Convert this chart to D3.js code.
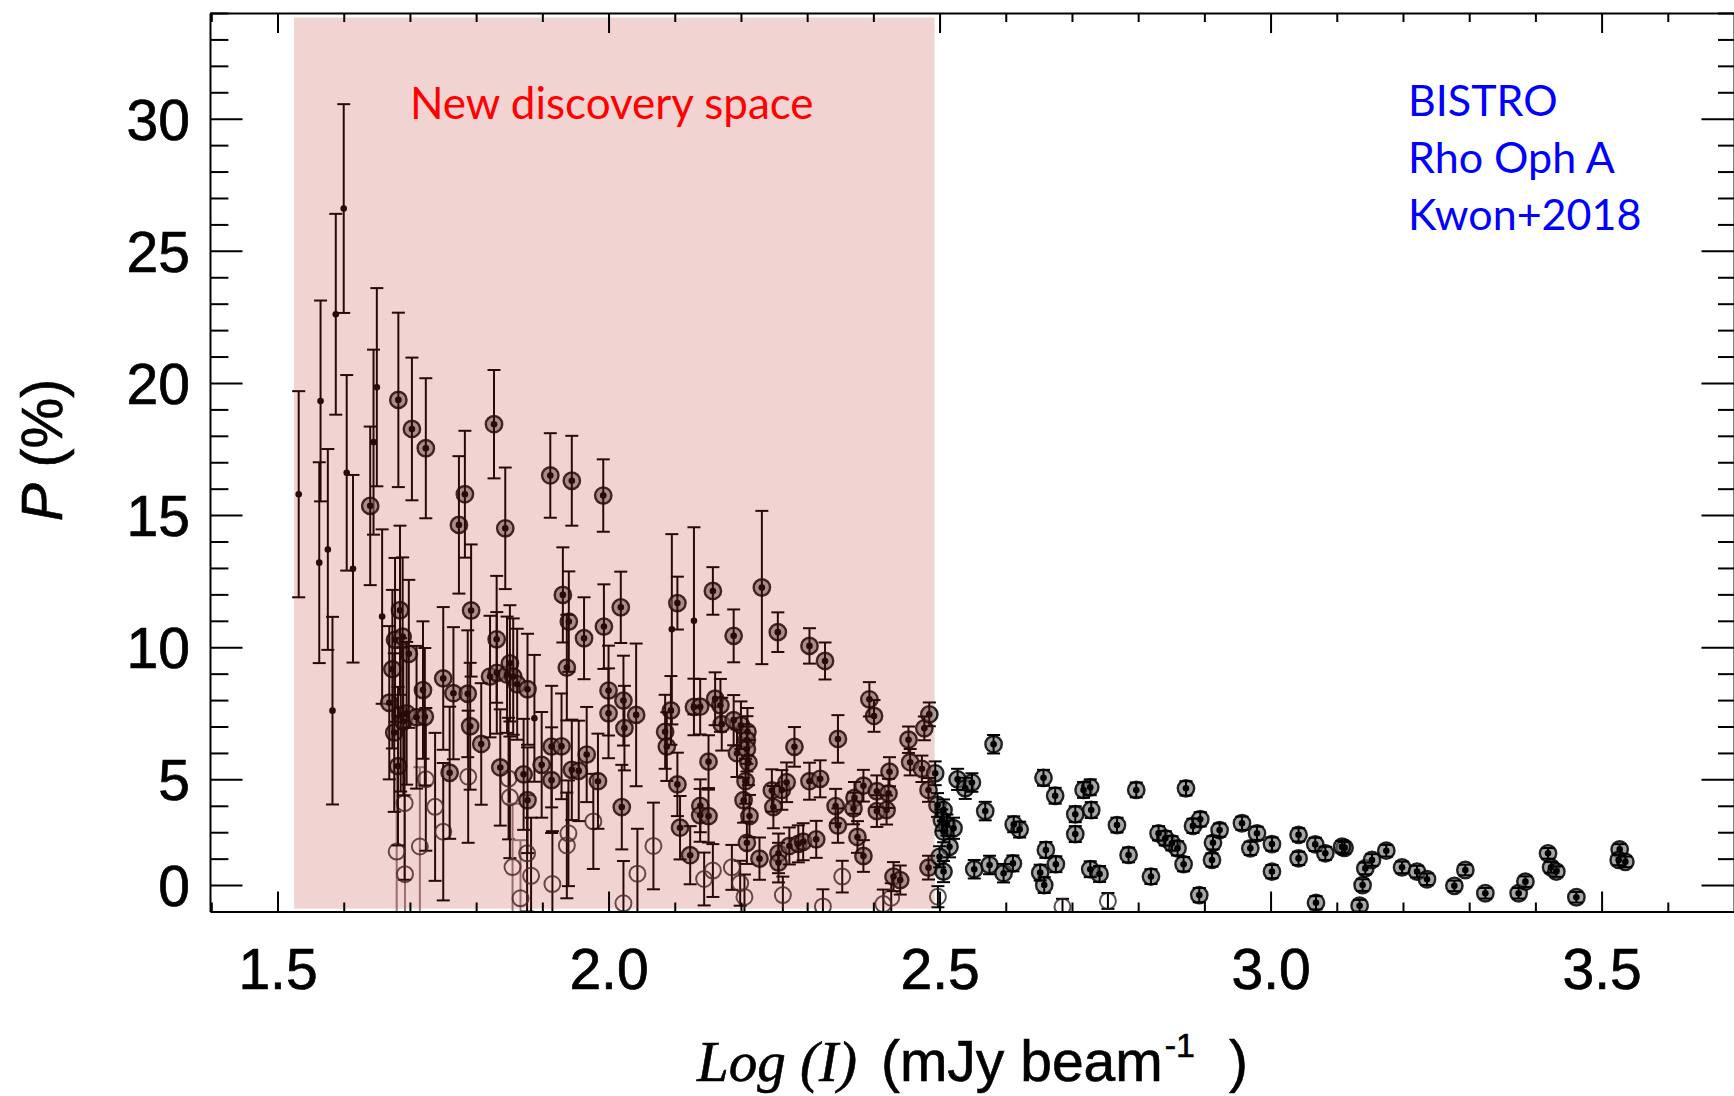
<!DOCTYPE html>
<html>
<head>
<meta charset="utf-8">
<script src="https://cdn.jsdelivr.net/npm/d3@7"></script>
<style>
  body { margin: 0; background: #fff; }
  svg { display: block; }
  .axis text { font-family: "Liberation Sans", Arial, sans-serif; font-size: 57px; fill: #000; stroke: #000; stroke-width: 0.7; }
  .axis path, .axis line { stroke: #000; stroke-width: 2; }
</style>
</head>
<body>
<div id="chart"></div>
<script>
// [log I, P, error]
const smallDots = [
  [1.532, 15.79, 3.9], [1.565, 19.32, 3.8], [1.563, 13.2, 3.8], [1.576, 13.7, 3.8],
  [1.583, 7.6, 3.55], [1.588, 22.6, 3.8], [1.600, 26.6, 3.95], [1.6045, 16.6, 3.7],
  [1.614, 12.97, 3.55], [1.645, 17.76, 3.5], [1.650, 19.84, 3.75], [1.658, 11.16, 3.3],
  [2.0956, 10.68, 3.6], [2.129, 11.0, 3.54], [1.888, 7.31, 2.4]
];

const ringPts = [
  [1.640, 15.35, 3.0], [1.6825, 19.36, 3.3], [1.703, 18.26, 2.7], [1.724, 17.53, 2.65],
  [1.774, 14.63, 2.6], [1.783, 15.79, 2.4], [1.827, 18.44, 2.05], [1.844, 14.5, 2.3],
  [1.912, 16.5, 1.6], [1.9445, 16.3, 1.7], [1.992, 15.74, 1.37], [1.7924, 11.39, 2.5],
  [1.931, 11.98, 1.8], [1.940, 10.97, 1.9], [1.937, 9.23, 2.0], [1.963, 10.34, 1.55],
  [1.993, 10.78, 1.6], [2.0185, 11.51, 1.35], [1.831, 10.3, 2.4], [2.104, 11.67, 1.0],
  [2.1576, 12.13, 0.9], [2.189, 10.43, 1.0], [2.2316, 12.26, 2.9], [2.2557, 10.57, 0.75],
  [2.3035, 10.05, 0.67], [2.327, 9.48, 0.7], [2.394, 8.03, 0.65], [2.401, 7.4, 0.6],
  [1.6688, 7.9, 2.9], [1.6735, 9.17, 3.0], [1.6763, 6.77, 3.0], [1.682, 5.5, 3.0],
  [1.6775, 10.28, 3.1], [1.685, 11.4, 3.2], [1.689, 10.4, 3.0], [1.686, 7.44, 2.9],
  [1.690, 7.19, 2.8], [1.6983, 9.75, 2.8], [1.695, 7.5, 2.7], [1.710, 7.35, 2.7],
  [1.7225, 7.37, 2.6], [1.7197, 8.38, 2.6], [1.7503, 8.82, 2.7], [1.760, 5.25, 2.5],
  [1.7657, 8.26, 2.5], [1.7873, 8.24, 2.4], [1.791, 7.01, 2.4], [1.8077, 6.34, 2.3],
  [1.821, 8.89, 2.3], [1.8312, 9.03, 2.3], [1.8365, 5.45, 2.2], [1.8467, 8.96, 2.2],
  [1.851, 9.39, 2.2], [1.856, 8.89, 2.2], [1.862, 8.6, 2.1], [1.8776, 8.41, 2.1],
  [1.8717, 5.19, 2.1], [1.8776, 4.21, 2.0], [1.899, 5.55, 2.0], [1.914, 6.24, 2.3],
  [1.929, 6.25, 2.0], [1.914, 4.97, 2.0], [1.9445, 5.36, 1.9], [1.955, 5.32, 1.9],
  [1.967, 5.94, 1.8], [1.984, 4.93, 1.8], [2.000, 7.5, 1.7], [2.000, 8.36, 1.7],
  [2.0225, 7.98, 1.7], [2.024, 6.94, 1.6], [2.020, 3.95, 1.6], [2.0417, 7.44, 2.7],
  [2.0855, 6.8, 1.4], [2.088, 6.24, 1.3], [2.0942, 7.61, 1.3], [2.104, 4.81, 1.2],
  [2.108, 3.17, 1.2], [2.1233, 2.13, 1.1], [2.129, 7.74, 1.07], [2.1384, 7.75, 1.05],
  [2.1386, 4.0, 1.0], [2.1384, 3.64, 1.0], [2.151, 3.61, 1.0], [2.151, 5.67, 1.0],
  [2.161, 8.05, 1.0], [2.169, 7.8, 1.0], [2.171, 7.09, 1.0], [2.189, 7.24, 0.95],
  [2.194, 5.99, 0.9], [2.200, 7.05, 0.9], [2.2098, 6.8, 0.9], [2.209, 6.49, 0.9],
  [2.209, 6.15, 0.85], [2.2114, 5.63, 0.85], [2.207, 4.93, 0.85], [2.204, 4.21, 0.85],
  [2.2129, 3.61, 0.8], [2.209, 2.6, 0.8], [2.228, 2.0, 0.8], [2.2467, 4.58, 0.8],
  [2.249, 3.95, 0.8], [2.2567, 2.2, 0.75], [2.2567, 1.85, 0.75], [2.2618, 4.6, 0.75],
  [2.269, 4.89, 0.75], [2.2808, 6.23, 0.75], [2.2731, 2.48, 0.7], [2.2867, 2.56, 0.7],
  [2.294, 2.64, 0.7], [2.3035, 4.93, 0.7], [2.3137, 2.73, 0.7], [2.3197, 5.02, 0.7],
  [2.343, 3.99, 0.65], [2.3465, 6.53, 0.9], [2.3465, 3.25, 0.65], [2.3715, 4.3, 0.6],
  [2.370, 3.9, 0.6], [2.376, 2.82, 0.6], [2.385, 2.1, 0.6], [2.385, 4.76, 0.6],
  [2.4053, 4.55, 0.6], [2.4053, 3.8, 0.6], [2.420, 3.84, 0.55], [2.4244, 5.29, 0.55],
  [2.4229, 4.47, 0.55], [2.4304, 1.32, 0.55], [2.4406, 1.19, 0.55], [2.4531, 6.5, 0.5],
  [2.4556, 5.65, 0.5], [2.4733, 5.4, 0.5], [2.477, 6.93, 0.45], [2.4845, 7.46, 0.45],
  [2.4934, 5.23, 0.45], [2.4833, 4.6, 0.45], [2.4833, 1.66, 0.45], [2.4969, 4.03, 0.45],
  [2.506, 3.84, 0.4], [2.5035, 3.46, 0.4], [2.5111, 3.27, 0.4], [2.5211, 3.15, 0.4],
  [2.506, 3.02, 0.4], [2.515, 2.45, 0.4], [2.500, 2.07, 0.4], [2.506, 1.51, 0.4],
  [2.5272, 5.0, 0.4], [2.5388, 4.66, 0.4], [2.5489, 4.88, 0.35], [2.5816, 6.33, 0.35],
  [2.569, 3.8, 0.35], [2.612, 3.3, 0.3], [2.621, 3.1, 0.3], [2.5524, 1.6, 0.35],
  [2.5755, 1.76, 0.35], [2.5967, 1.45, 0.35], [2.6108, 1.82, 0.3], [2.657, 5.06, 0.3],
  [2.6746, 4.38, 0.3], [2.705, 3.68, 0.3], [2.705, 2.93, 0.3], [2.7175, 4.6, 0.3],
  [2.7276, 4.7, 0.3], [2.7291, 3.84, 0.3], [2.6606, 2.33, 0.3], [2.6757, 1.79, 0.3],
  [2.652, 1.47, 0.3], [2.6581, 1.0, 0.3], [2.7276, 1.6, 0.3], [2.7417, 1.42, 0.3],
  [2.768, 3.27, 0.28], [2.7971, 4.6, 0.28], [2.7855, 2.14, 0.28], [2.8193, 1.32, 0.28],
  [2.8308, 2.96, 0.27], [2.841, 2.77, 0.27], [2.851, 2.58, 0.27], [2.8595, 2.39, 0.27],
  [2.8686, 1.79, 0.27], [2.8722, 4.66, 0.27], [2.8828, 3.24, 0.27], [2.8938, 3.49, 0.27],
  [2.8923, 0.62, 0.27], [2.913, 2.6, 0.25], [2.9115, 1.95, 0.25], [2.923, 3.08, 0.25],
  [2.9568, 3.34, 0.25], [2.9795, 2.96, 0.25], [2.9694, 2.39, 0.25], [3.0021, 2.55, 0.25],
  [3.0021, 1.51, 0.25], [3.0423, 2.9, 0.25], [3.0423, 2.01, 0.25], [3.0675, 2.54, 0.25],
  [3.0827, 2.2, 0.25], [3.1118, 2.41, 0.22], [3.108, 2.45, 0.22], [3.0686, 0.33, 0.25],
  [3.1345, 0.22, 0.22], [3.139, 1.0, 0.22], [3.1431, 1.63, 0.22], [3.1532, 1.95, 0.22],
  [3.1748, 2.3, 0.22], [3.1986, 1.67, 0.22], [3.2212, 1.51, 0.22], [3.2363, 1.22, 0.22],
  [3.2776, 0.97, 0.2], [3.2942, 1.57, 0.2], [3.3244, 0.69, 0.2], [3.3747, 0.69, 0.2],
  [3.3849, 1.13, 0.2], [3.4191, 2.2, 0.2], [3.4237, 1.67, 0.2], [3.4317, 1.51, 0.2],
  [3.4619, 0.54, 0.2], [3.5273, 2.35, 0.2], [3.5258, 1.95, 0.2], [3.5359, 1.88, 0.2]
];

// [log I, P, error, grey bar]
const openPts = [
  [1.680, 2.27, 3.0, 1], [1.6925, 1.41, 3.0, 1], [1.6919, 4.1, 2.9, 0], [1.715, 2.46, 3.0, 1],
  [1.724, 5.0, 2.7, 0], [1.738, 3.96, 2.8, 0], [1.7503, 3.02, 2.6, 0], [1.788, 5.1, 2.5, 0],
  [1.849, 5.03, 2.3, 0], [1.851, 4.32, 2.3, 0], [1.855, 1.68, 2.4, 1], [1.867, 0.5, 2.2, 1],
  [1.877, 2.2, 2.2, 0], [1.883, 1.35, 2.2, 0], [1.9152, 1.04, 2.0, 0], [1.9394, 2.96, 2.0, 0],
  [1.937, 2.5, 2.0, 0], [1.977, 3.41, 1.8, 0], [2.0225, 0.31, 1.6, 0], [2.0436, 1.43, 1.7, 0],
  [2.0678, 2.48, 1.64, 0], [2.1444, 1.23, 1.0, 0], [2.1576, 1.55, 1.0, 0], [2.1863, 1.67, 0.85, 0],
  [2.1988, 1.07, 0.85, 0], [2.2053, 0.55, 0.85, 0], [2.2633, 0.62, 0.7, 0], [2.3238, 0.19, 0.65, 0],
  [2.353, 1.32, 0.6, 0], [2.415, 0.28, 0.55, 0], [2.427, 0.52, 0.55, 0], [2.4975, 0.56, 0.4, 0],
  [2.6857, 0.18, 0.3, 0], [2.7543, 0.4, 0.3, 0]
];

const yTickVals = [1, 5, 10, 15, 20, 25, 30];
const yTickLabels = ['0', '5', '10', '15', '20', '25', '30'];
const xTickVals = [1.5, 2.0, 2.5, 3.0, 3.5];
const xTickLabels = ['1.5', '2.0', '2.5', '3.0', '3.5'];
const bandX = [1.525, 2.4925];
const bandP = [0.11, 33.83];
const notes = ['BISTRO', 'Rho Oph A', 'Kwon+2018'];

const W = 1734, H = 1096;
const padL = 210, padR = 1734, padT = 13, padB = 911.5;

const x = d3.scaleLinear().domain([1.398, 3.7]).range([padL, padR]);
const y = d3.scaleLinear().domain([0, 34]).range([padB, padT]);

const yMinor = d3.range(2, 35).filter(v => !yTickVals.includes(v));
const xMinor = d3.range(14, 37).map(v => v / 10).filter(v => !xTickVals.includes(v));

const svg = d3.select('#chart').append('svg')
    .attr('width', W)
    .attr('height', H);

const defs = svg.append('defs');
defs.append('clipPath').attr('id', 'clip')
  .append('rect')
    .attr('x', padL).attr('y', padT)
    .attr('width', padR - padL).attr('height', padB - padT);
defs.append('filter').attr('id', 'soft')
  .append('feGaussianBlur').attr('stdDeviation', 0.6);

// points
const data = svg.append('g')
    .attr('clip-path', 'url(#clip)')
  .append('g')
    .attr('filter', 'url(#soft)');

const bar = (g, pts, colour) => {
  const e = g.append('g').selectAll('g').data(pts).enter().append('g')
      .attr('stroke', d => d[3] ? '#8f8080' : colour)
      .attr('stroke-width', 2);
  e.append('line')
      .attr('x1', d => x(d[0])).attr('x2', d => x(d[0]))
      .attr('y1', d => y(d[1] - d[2])).attr('y2', d => y(d[1] + d[2]));
  e.append('line')
      .attr('x1', d => x(d[0]) - 6.5).attr('x2', d => x(d[0]) + 6.5)
      .attr('y1', d => y(d[1] + d[2])).attr('y2', d => y(d[1] + d[2]));
  e.append('line')
      .attr('x1', d => x(d[0]) - 6.5).attr('x2', d => x(d[0]) + 6.5)
      .attr('y1', d => y(d[1] - d[2])).attr('y2', d => y(d[1] - d[2]));
};

bar(data, smallDots, '#000');
bar(data, openPts, '#000');

data.append('g').selectAll('circle')
    .data(openPts)
    .enter().append('circle')
    .attr('cx', d => x(d[0]))
    .attr('cy', d => y(d[1]))
    .attr('r', 8)
    .attr('fill', 'none')
    .attr('stroke', '#2a2222')
    .attr('stroke-opacity', 0.8)
    .attr('stroke-width', 2);

data.append('g').selectAll('circle')
    .data(ringPts)
    .enter().append('circle')
    .attr('cx', d => x(d[0]))
    .attr('cy', d => y(d[1]))
    .attr('r', 8.2)
    .attr('fill', '#6a6a6a')
    .attr('fill-opacity', 0.6)
    .attr('stroke', '#000')
    .attr('stroke-opacity', 0.85)
    .attr('stroke-width', 2.4);

bar(data, ringPts, '#000');

data.append('g').selectAll('circle')
    .data(ringPts.concat(smallDots))
    .enter().append('circle')
    .attr('cx', d => x(d[0]))
    .attr('cy', d => y(d[1]))
    .attr('r', 3.3)
    .attr('fill', '#000');

// new discovery space band
svg.append('rect')
    .attr('x', x(bandX[0]))
    .attr('y', y(bandP[1]))
    .attr('width', x(bandX[1]) - x(bandX[0]))
    .attr('height', y(bandP[0]) - y(bandP[1]))
    .attr('fill', 'rgb(190,48,38)')
    .attr('fill-opacity', 0.21);

// axes
const styleAxis = g => g.attr('class', 'axis');

svg.append('g').call(styleAxis)
    .attr('transform', `translate(${padL},0)`)
    .call(d3.axisLeft(y).tickValues(yTickVals).tickFormat((d, i) => yTickLabels[i])
      .tickSizeInner(-32.5).tickSizeOuter(0).tickPadding(20))
    .selectAll('text').attr('dy', '0.36em');
svg.append('g').call(styleAxis)
    .attr('transform', `translate(${padL},0)`)
    .call(d3.axisLeft(y).tickValues(yMinor).tickFormat('').tickSizeInner(-18.4).tickSizeOuter(0))
    .select('.domain').remove();

svg.append('g').call(styleAxis)
    .attr('transform', `translate(${padR},0)`)
    .call(d3.axisRight(y).tickValues(yTickVals).tickFormat('').tickSizeInner(-32.5).tickSizeOuter(0));
svg.append('g').call(styleAxis)
    .attr('transform', `translate(${padR},0)`)
    .call(d3.axisRight(y).tickValues(yMinor).tickFormat('').tickSizeInner(-16).tickSizeOuter(0))
    .select('.domain').remove();

svg.append('g').call(styleAxis)
    .attr('transform', `translate(0,${padB})`)
    .call(d3.axisBottom(x).tickValues(xTickVals).tickFormat((d, i) => xTickLabels[i])
      .tickSizeInner(-20).tickSizeOuter(0).tickPadding(37));
svg.append('g').call(styleAxis)
    .attr('transform', `translate(0,${padB})`)
    .call(d3.axisBottom(x).tickValues(xMinor).tickFormat('').tickSizeInner(-9).tickSizeOuter(0))
    .select('.domain').remove();

svg.append('g').call(styleAxis)
    .attr('transform', `translate(0,${padT})`)
    .call(d3.axisTop(x).tickValues(xTickVals).tickFormat('').tickSizeInner(-20).tickSizeOuter(0));
svg.append('g').call(styleAxis)
    .attr('transform', `translate(0,${padT})`)
    .call(d3.axisTop(x).tickValues(xMinor).tickFormat('').tickSizeInner(-9).tickSizeOuter(0))
    .select('.domain').remove();

// axis titles
const yt = svg.append('text')
    .attr('transform', 'translate(62,450) rotate(-90)')
    .attr('text-anchor', 'middle')
    .style('font-family', '"Liberation Sans", Arial, sans-serif')
    .style('font-size', '57px')
    .attr('stroke', '#000').attr('stroke-width', 0.6);
yt.append('tspan').style('font-style', 'italic').text('P');
yt.append('tspan').text(' (%)');

const xt = svg.append('text')
    .attr('x', 697)
    .attr('y', 1081)
    .style('font-size', '57px')
    .style('font-family', '"Liberation Sans", Arial, sans-serif')
    .attr('stroke', '#000').attr('stroke-width', 0.6);
xt.append('tspan')
    .style('font-family', '"Liberation Serif", "Times New Roman", serif')
    .style('font-style', 'italic')
    .text('Log (I)');
xt.append('tspan').attr('dx', 24).text('(mJy beam');
xt.append('tspan').style('font-size', '34px').attr('dy', -24).attr('dx', 2).text('-1');
xt.append('tspan').attr('dy', 24).attr('dx', 34).text(')');

// annotations
svg.append('text')
    .attr('x', x(1.7))
    .attr('y', y(30.0))
    .style('font-family', 'Lato, "Open Sans", sans-serif')
    .style('font-size', '44px')
    .attr('fill', '#ff0000')
    .text('New discovery space');

svg.append('g').selectAll('text')
    .data(notes)
    .enter().append('text')
    .attr('x', x(3.2076))
    .attr('y', (d, i) => y(30.12) + i * 57)
    .style('font-family', 'Lato, "Open Sans", sans-serif')
    .style('font-size', '43px')
    .attr('fill', '#0000ff')
    .text(d => d);
</script>
</body>
</html>
